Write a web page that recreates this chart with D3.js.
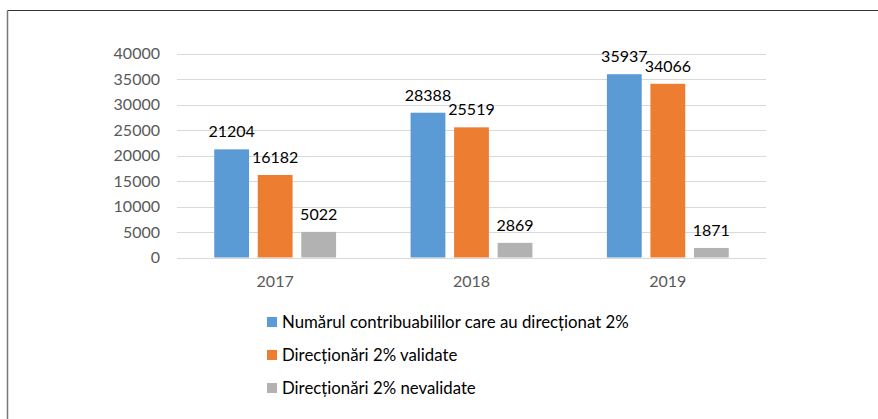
<!DOCTYPE html>
<html>
<head>
<meta charset="utf-8">
<script src="https://cdnjs.cloudflare.com/ajax/libs/d3/7.8.5/d3.min.js"></script>
<style>
  html, body { margin: 0; padding: 0; background: #fff; }
  svg { display: block; font-family: Lato, "Open Sans", sans-serif; }
</style>
</head>
<body>
<svg id="chart" width="878" height="419"></svg>
<script>
// data
const years = ['2017', '2018', '2019'];
const seriesNames = [
  'Numărul contribuabililor care au direcționat 2%',
  'Direcționări 2% validate',
  'Direcționări 2% nevalidate'
];
const contribuabili = [21204, 28388, 35937];
const validate = [16182, 25519, 34066];
const nevalidate = [5022, 2869, 1871];
const yTicks = [0, 5000, 10000, 15000, 20000, 25000, 30000, 35000, 40000];
const colors = ['#5B9BD5', '#ED7D31', '#B2B2B2'];

const seriesValues = [contribuabili, validate, nevalidate];

const svg = d3.select('#chart');

// frame (only top and left edges are visible in the crop)
svg.append('line')
  .attr('x1', 7.5).attr('x2', 878).attr('y1', 10.5).attr('y2', 10.5)
  .attr('stroke', '#333').attr('stroke-width', 1.2);
svg.append('line')
  .attr('x1', 7.5).attr('x2', 7.5).attr('y1', 10.5).attr('y2', 419)
  .attr('stroke', '#777').attr('stroke-width', 1.5);

const plot = { left: 177, right: 766, top: 53.5, bottom: 257.5 };

const y = d3.scaleLinear()
  .domain([0, 40000])
  .range([plot.bottom, plot.top]);

const x0 = d3.scaleBand()
  .domain(years)
  .range([plot.left, plot.right])
  .paddingInner(0.335)
  .paddingOuter(0.1675);

const x1 = d3.scaleBand()
  .domain(d3.range(seriesNames.length))
  .range([0, x0.bandwidth()])
  .paddingInner(0.2)
  .paddingOuter(0.1);

// gridlines
svg.append('g')
  .selectAll('line')
  .data(yTicks)
  .join('line')
  .attr('x1', plot.left)
  .attr('x2', plot.right)
  .attr('y1', d => Math.round(y(d)) + 0.5)
  .attr('y2', d => Math.round(y(d)) + 0.5)
  .attr('stroke', '#d9d9d9')
  .attr('stroke-width', 1);

// y tick labels
svg.append('g')
  .selectAll('text')
  .data(yTicks)
  .join('text')
  .attr('x', 160)
  .attr('y', d => y(d))
  .attr('dy', '0.36em')
  .attr('text-anchor', 'end')
  .attr('fill', '#595959')
  .style('font-size', '16px')
  .text(d => d);

// x labels
svg.append('g')
  .selectAll('text')
  .data(years)
  .join('text')
  .attr('x', d => x0(d) + x0.bandwidth() / 2)
  .attr('y', 287)
  .attr('text-anchor', 'middle')
  .attr('fill', '#595959')
  .style('font-size', '16px')
  .text(d => d);

// bars
const rows = [];
years.forEach((yr, i) => {
  seriesValues.forEach((vals, s) => {
    rows.push({ year: yr, s, value: vals[i] });
  });
});

const $bars = svg.append('g');
$bars.selectAll('rect')
  .data(rows)
  .join('rect')
  .attr('x', d => x0(d.year) + x1(d.s))
  .attr('width', x1.bandwidth())
  .attr('y', d => y(d.value))
  .attr('height', d => y(0) - y(d.value))
  .attr('fill', d => colors[d.s]);

// value labels
$bars.selectAll('text')
  .data(rows)
  .join('text')
  .attr('x', d => x0(d.year) + x1(d.s) + x1.bandwidth() / 2)
  .attr('y', d => y(d.value) - 12)
  .attr('text-anchor', 'middle')
  .attr('fill', '#000')
  .style('font-size', '16px')
  .text(d => d.value);

// legend
const legend = svg.append('g')
  .selectAll('g')
  .data(seriesNames)
  .join('g')
  .attr('transform', (d, i) => `translate(267, ${322 + i * 33})`);

legend.append('rect')
  .attr('x', 0).attr('y', -5)
  .attr('width', 10).attr('height', 10)
  .attr('fill', (d, i) => colors[i]);

legend.append('text')
  .attr('x', 15)
  .attr('y', 0)
  .attr('dy', '0.36em')
  .attr('fill', '#000')
  .style('font-size', '16.8px')
  .text(d => d);
</script>
</body>
</html>
